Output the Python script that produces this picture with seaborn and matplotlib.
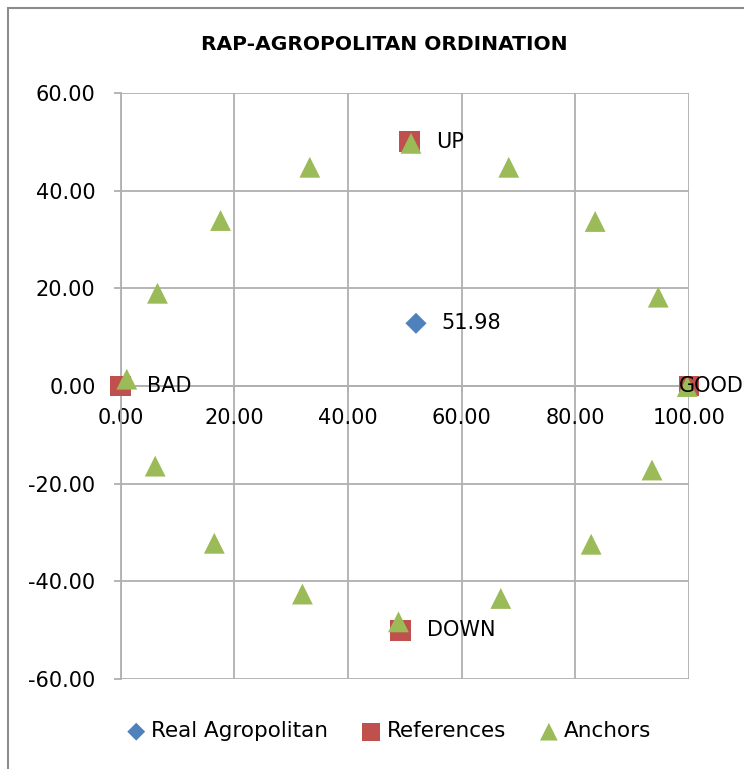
import matplotlib
matplotlib.use("Agg")
import matplotlib.pyplot as plt
import seaborn as sns
from matplotlib.patches import Rectangle
from matplotlib.ticker import FormatStrFormatter

# Real agropolitan point
real_x = [51.98]
real_y = [12.85]
real_labels = ["51.98"]

# Reference points
ref_x = [100.0, 0.0, 50.9, 49.2]
ref_y = [0.0, 0.0, 50.0, -50.0]
ref_labels = ["GOOD", "BAD", "UP", "DOWN"]

# Anchor points
anchor_x = [1.1, 6.5, 17.6, 33.3, 51.1, 68.3, 83.5, 94.6,
            99.7, 93.5, 82.8, 66.9, 48.9, 32.0, 16.5, 6.1]
anchor_y = [1.4, 19.0, 33.9, 44.8, 49.7, 44.8, 33.7, 18.2,
            -0.1, -17.2, -32.4, -43.5, -48.3, -42.6, -32.2, -16.4]

x_ticks = [0, 20, 40, 60, 80, 100]
y_ticks = [-60, -40, -20, 0, 20, 40, 60]

sns.set_style("white")
plt.rcParams['font.family'] = ['DejaVu Sans']
plt.rcParams['text.color'] = 'black'

grid_col = '#B0B0B0'
fig, ax = plt.subplots(figsize=(7.44, 7.69), dpi=100)
plt.subplots_adjust(left=0.162, right=0.926, bottom=0.117, top=0.879)

sns.scatterplot(x=real_x, y=real_y, marker='D', color='#4F81BD', s=115,
                edgecolor='none', label='Real Agropolitan', ax=ax, zorder=3, clip_on=False)
sns.scatterplot(x=ref_x, y=ref_y, marker='s', color='#C0504D', s=225,
                edgecolor='none', label='References', ax=ax, zorder=3, clip_on=False)
sns.scatterplot(x=anchor_x, y=anchor_y, marker='^', color='#9BBB59', s=225,
                edgecolor='none', label='Anchors', ax=ax, zorder=4, clip_on=False)

# data labels to the right of the points
for x, y, t in zip(real_x, real_y, real_labels):
    ax.annotate(t, (x, y), xytext=(18, 0), textcoords='offset points',
                va='center', ha='left', fontsize=15, annotation_clip=False)
for x, y, t in zip(ref_x, ref_y, ref_labels):
    dx = -7 if t == "GOOD" else 19
    ax.annotate(t, (x, y), xytext=(dx, 0), textcoords='offset points',
                va='center', ha='left', fontsize=15, annotation_clip=False, zorder=5)

ax.set_xlim(0, 100)
ax.set_ylim(-60, 60)
ax.set_xticks(x_ticks)
ax.set_yticks(y_ticks)
ax.xaxis.set_major_formatter(FormatStrFormatter('%.2f'))
ax.yaxis.set_major_formatter(FormatStrFormatter('%.2f'))
ax.set_xlabel("")
ax.set_ylabel("")

ax.grid(True, color=grid_col, linewidth=1.3)
ax.set_axisbelow(True)
for side in ['top', 'right']:
    ax.spines[side].set_visible(False)
ax.spines['bottom'].set_position(('data', 0))
ax.spines['bottom'].set_color(grid_col)
ax.spines['left'].set_color(grid_col)
ax.spines['bottom'].set_linewidth(1.3)
ax.spines['left'].set_linewidth(1.3)
ax.tick_params(axis='y', length=5, width=1.3, color=grid_col, pad=13, labelsize=15,
               labelcolor='black', direction='out', left=True)
ax.tick_params(axis='x', length=4, width=1.3, color=grid_col, pad=12, labelsize=15,
               labelcolor='black', direction='out', bottom=True)

fig.suptitle("RAP-AGROPOLITAN ORDINATION", x=0.516, y=1 - 45 / 769, va='center',
             fontsize=14.6, fontweight='bold', color='black')

handles, labels = ax.get_legend_handles_labels()
ax.get_legend().remove()
fig.legend(handles, labels, loc='center', bbox_to_anchor=(0.522, 0.049), ncol=3,
           frameon=False, fontsize=15.5, markerscale=0.85, handletextpad=0.2,
           columnspacing=1.5, handlelength=1.0)

# chart area border
fig.add_artist(Rectangle((8 / 744, -0.05), 1.0, 1 - 8 / 769 + 0.05,
                         transform=fig.transFigure, fill=False,
                         edgecolor='#8C8C8C', linewidth=1.5))

fig.savefig("out.png", dpi=100)
